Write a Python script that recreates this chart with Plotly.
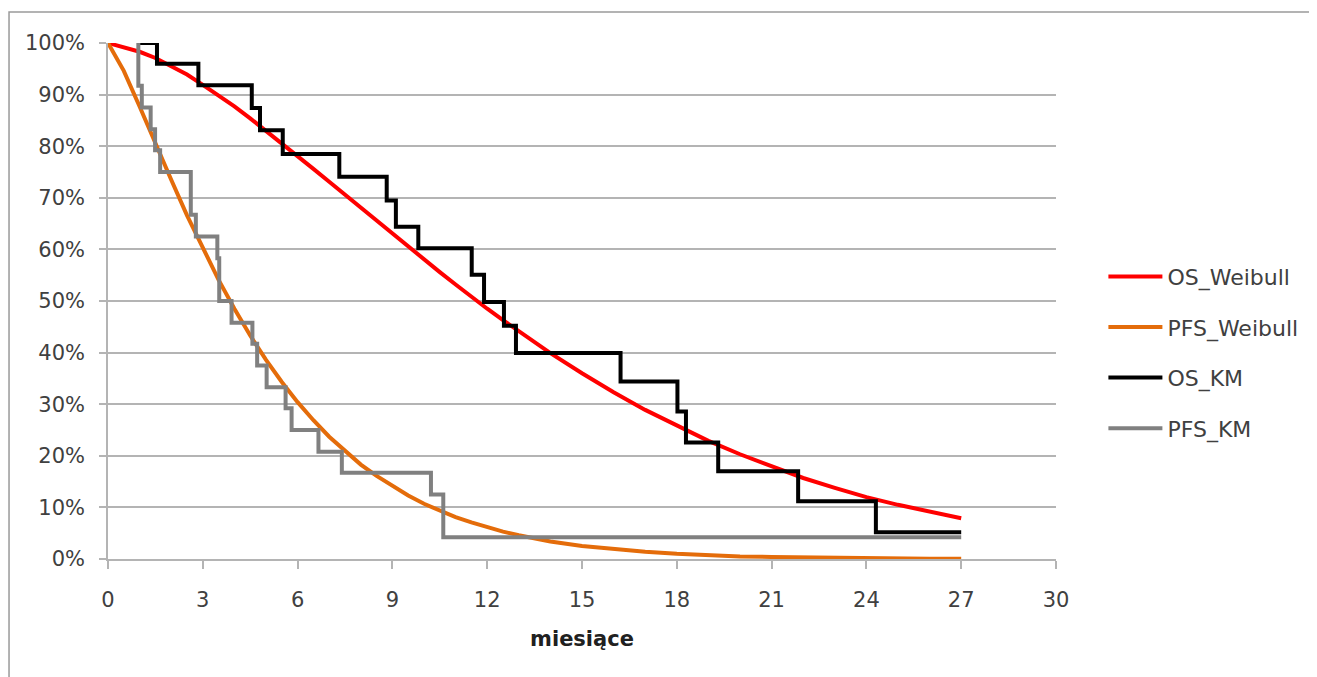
import plotly.graph_objects as go

# ---- data ----
months_w = [0, 0.5, 1, 1.5, 2, 2.5, 3, 3.5, 4, 4.5, 5, 5.5, 6, 6.5, 7, 7.5, 8, 8.5, 9, 9.5,
            10, 10.5, 11, 11.5, 12, 12.5, 13, 14, 15, 16, 17, 18, 19, 20, 21, 22, 23, 24, 25, 26, 27]
os_weibull = [100, 99.2, 98.3, 97.1, 95.6, 93.9, 91.9, 89.9, 87.7, 85.4, 83.0, 80.6, 78.1, 75.6, 73.1,
              70.6, 68.0, 65.5, 62.9, 60.5, 58.0, 55.6, 53.2, 50.8, 48.5, 46.3, 44.1, 39.9, 36.0, 32.3,
              28.9, 25.8, 22.9, 20.3, 17.9, 15.7, 13.8, 12.0, 10.5, 9.1, 7.9]
pfs_weibull = [100, 94.6, 87.7, 80.5, 73.5, 66.6, 60.2, 54.1, 48.5, 43.3, 38.6, 34.3, 30.4, 26.9, 23.7,
               20.9, 18.3, 16.1, 14.1, 12.3, 10.7, 9.3, 8.1, 7.1, 6.1, 5.3, 4.6, 3.4, 2.5, 1.9,
               1.4, 1.0, 0.7, 0.5, 0.4, 0.3, 0.2, 0.14, 0.1, 0.07, 0.05]

os_km_t = [0.96, 1.55, 2.86, 4.55, 4.81, 5.53, 7.32, 8.82, 9.11, 9.82, 11.51, 11.90, 12.53, 12.91,
           16.22, 18.02, 18.29, 19.31, 21.84, 24.30, 27.0]
os_km_s = [100, 96.0, 91.8, 87.4, 83.1, 78.5, 74.1, 69.5, 64.4, 60.2, 55.1, 49.8, 45.2, 39.9,
           34.4, 28.6, 22.6, 17.0, 11.2, 5.2, 5.2]

pfs_km_t = [0.96, 0.96, 1.07, 1.35, 1.49, 1.65, 2.62, 2.78, 3.46, 3.52, 3.91, 4.57, 4.72, 5.02,
            5.62, 5.81, 6.66, 7.40, 10.22, 10.61, 27.0]
pfs_km_s = [100, 91.7, 87.5, 83.3, 79.2, 75.0, 66.7, 62.5, 58.3, 50.0, 45.8, 41.7, 37.5, 33.3,
            29.2, 25.0, 20.8, 16.7, 12.5, 4.2, 4.2]

x_ticks = [0, 3, 6, 9, 12, 15, 18, 21, 24, 27, 30]
y_ticks = [0, 10, 20, 30, 40, 50, 60, 70, 80, 90, 100]

FONT = "DejaVu Sans"
GRID = "#b4b4b4"

fig = go.Figure()
fig.add_trace(go.Scatter(x=months_w, y=os_weibull, mode="lines", name="OS_Weibull",
                         legendgroup="a", line=dict(color="#ff0000", width=4, shape="linear")))
fig.add_trace(go.Scatter(x=months_w, y=pfs_weibull, mode="lines", name="PFS_Weibull",
                         legendgroup="b", line=dict(color="#e46c0a", width=4, shape="linear")))
fig.add_trace(go.Scatter(x=os_km_t, y=os_km_s, mode="lines", name="OS_KM",
                         legendgroup="c", line=dict(color="#000000", width=4, shape="hv")))
fig.add_trace(go.Scatter(x=pfs_km_t, y=pfs_km_s, mode="lines", name="PFS_KM",
                         legendgroup="d", line=dict(color="#808080", width=4, shape="hv")))

fig.update_layout(
    width=1317, height=677,
    margin=dict(l=100, r=269, t=35, b=126),
    paper_bgcolor="white", plot_bgcolor="white",
    font=dict(family=FONT, size=21, color="#404040"),
    showlegend=True,
    legend=dict(x=1.05, y=0.40, xanchor="left", yanchor="middle",
                font=dict(family=FONT, size=22, color="#404040"),
                tracegroupgap=19, itemwidth=54, bgcolor="rgba(0,0,0,0)"),
    xaxis=dict(range=[0, 30], tickvals=x_ticks, ticktext=[str(v) for v in x_ticks],
               showgrid=False, zeroline=False, showline=True, linecolor=GRID, linewidth=1.5,
               ticks="outside", ticklen=8, tickcolor=GRID, tickwidth=1.5,
               ticklabelstandoff=13,
               title=dict(text="<b>miesiące</b>", font=dict(family=FONT, size=21, color="#202020"),
                          standoff=20)),
    yaxis=dict(range=[0, 100], tickvals=y_ticks, ticktext=[f"{v}%" for v in y_ticks],
               showgrid=True, gridcolor=GRID, gridwidth=1.5, zeroline=False,
               showline=True, linecolor=GRID, linewidth=1.5,
               ticks="outside", ticklen=7, tickcolor=GRID, tickwidth=1.5,
               ticklabelstandoff=10),
)

# outer chart border
fig.add_shape(type="rect", xref="paper", yref="paper", x0=-0.1044, y0=-0.4, x1=1.35, y1=1.060,
              line=dict(color="#9a9a9a", width=1.5), fillcolor="rgba(0,0,0,0)", layer="below")

fig.write_html("out.html")
